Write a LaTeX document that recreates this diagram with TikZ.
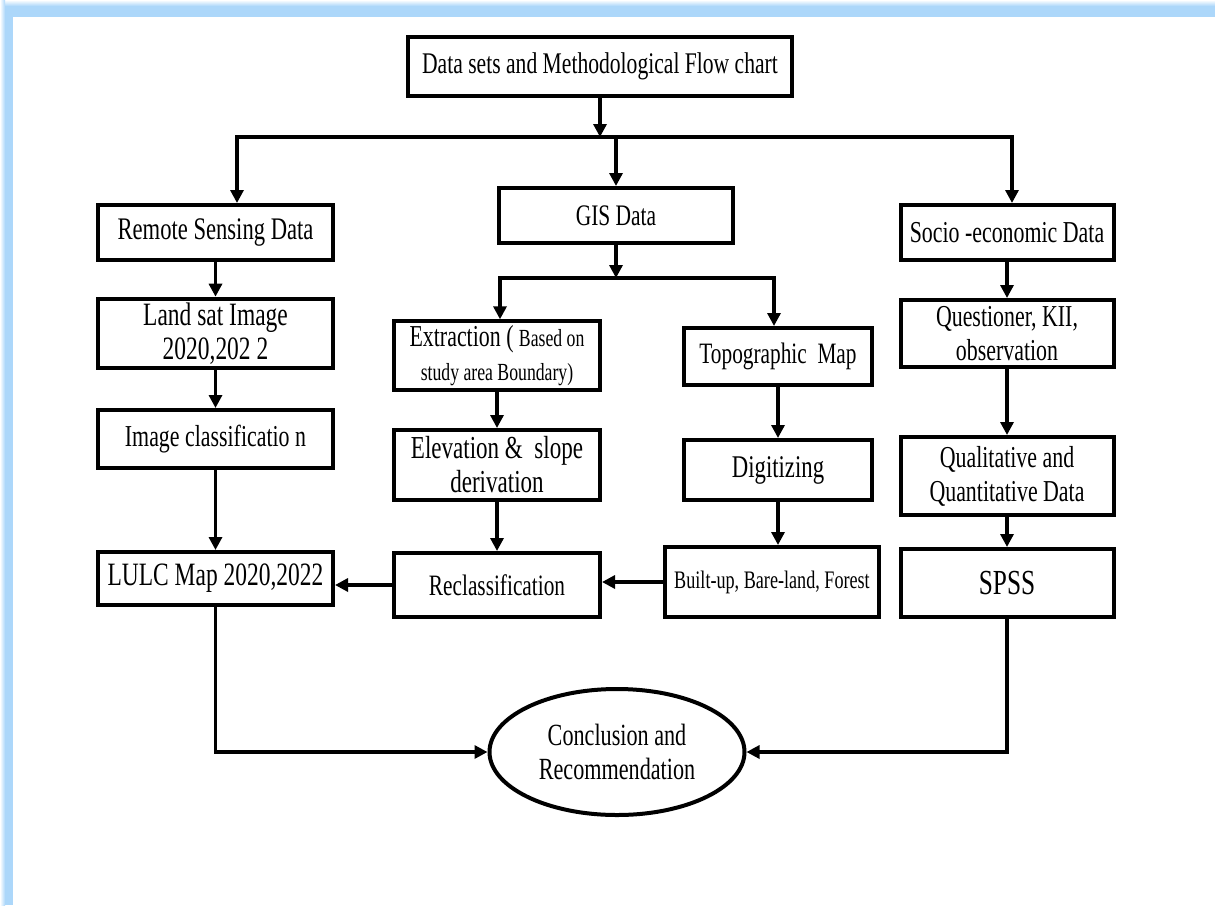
\documentclass[tikz,border=0pt]{standalone}
\usepackage{fontspec}
\setmainfont{Liberation Serif}[FakeStretch=0.72]
\usetikzlibrary{arrows.meta,shapes.geometric}
\definecolor{bordercol}{RGB}{172,215,250}
\newcommand{\fsz}[1]{\fontsize{#1}{17}\selectfont}
\tikzset{
  box/.style={draw=black, line width=2pt, fill=white, align=center, inner sep=2pt,
    font=\fsz{15.2}},
  conn/.style={line width=1.6pt, line cap=rect},
  arr/.style={line width=1.6pt, -{Triangle[length=6.5pt,width=6.5pt]}},
  oval/.style={draw=black, line width=2pt, ellipse, inner sep=0pt, align=center,
    font=\fsz{15.4}}
}
\begin{document}
\begin{tikzpicture}[x=0.5pt,y=-0.5pt]
\useasboundingbox (0,0) rectangle (1215,905);
% page frame
\fill[bordercol] (0,0) rectangle (1215,905);
\shade[top color=white, bottom color=bordercol] (0,0) rectangle (1215,6);
\shade[left color=white, right color=bordercol] (0,0) rectangle (5,905);
\fill[white] (13,17) rectangle (1215,905);

% nodes
\node[box, minimum width=192pt, minimum height=29.5pt, font=\fsz{15}] (title) at (600,66.5) {Data sets and Methodological Flow chart};

\node[box, minimum width=117.5pt, minimum height=27.5pt, font=\fsz{15.7}] (rs) at (215.5,232.5) {Remote Sensing Data};
\node[box, minimum width=117pt, minimum height=27.5pt, font=\fsz{14.9}] (gis) at (616,215.5) {GIS Data};
\node[box, minimum width=106.5pt, minimum height=27.5pt] (soc) at (1007,232.5) {Socio -economic Data};

\node[box, minimum width=117.5pt, minimum height=33.5pt, font=\fsz{16.3}] (land) at (215.5,333.5) {Land sat Image\\2020,202 2};
\node[box, minimum width=103pt, minimum height=32.5pt] (extr) at (497,355.5) {Extraction ( {\fontsize{12.3}{14}\selectfont Based on}\\{\fontsize{12.3}{14}\selectfont study area Boundary)}};
\node[box, minimum width=94pt, minimum height=28.5pt, font=\fsz{14.8}] (topo) at (778,356.5) {Topographic\ \ Map};
\node[box, minimum width=106.5pt, minimum height=33.5pt] (quest) at (1007,333.5) {Questioner, KII,\\observation};

\node[box, minimum width=117.5pt, minimum height=29pt] (imgc) at (215.5,439) {Image classificatio n};
\node[box, minimum width=103pt, minimum height=35pt, font=\fsz{16}] (elev) at (497,465) {Elevation \&\ \ slope\\derivation};
\node[box, minimum width=94pt, minimum height=30pt, font=\fsz{15.8}] (dig) at (778,470) {Digitizing};
\node[box, minimum width=106.5pt, minimum height=39pt] (qual) at (1007,476) {Qualitative and\\Quantitative Data};

\node[box, minimum width=117.5pt, minimum height=26.5pt, font=\fsz{16.3}] (lulc) at (215.5,578.5) {LULC Map 2020,2022};
\node[box, minimum width=103pt, minimum height=32pt, font=\fsz{14.8}] (recl) at (497,585) {Reclassification};
\node[box, minimum width=107pt, minimum height=35pt, font=\fsz{12.6}] (bu) at (772,582) {Built-up, Bare-land, Forest};
\node[box, minimum width=106.5pt, minimum height=34pt, font=\fsz{17.6}] (spss) at (1007,583) {SPSS};

\node[oval, minimum width=127.5pt, minimum height=63pt] (conc) at (617,752) {Conclusion and\\Recommendation};

% junction coordinates
\coordinate (j0) at (600,137);
\coordinate (jl) at (237,137);
\coordinate (jm) at (616,137);
\coordinate (jr) at (1012,137);
\coordinate (g0) at (616,278);
\coordinate (gl) at (500,278);
\coordinate (gr) at (774,278);

% connectors
\draw[arr] (title.south) -- (j0);
\draw[conn] (jl) -- (jr);
\draw[arr] (jl) -- (jl |- rs.north);
\draw[arr] (jm) -- (gis.north);
\draw[arr] (jr) -- (jr |- soc.north);

\draw[arr] (rs.south) -- (land.north);
\draw[arr] (land.south) -- (imgc.north);
\draw[arr] (imgc.south) -- (lulc.north);

\draw[arr] (gis.south) -- (g0);
\draw[conn] (gl) -- (gr);
\draw[arr] (gl) -- (gl |- extr.north);
\draw[arr] (gr) -- (gr |- topo.north);
\draw[arr] (extr.south) -- (elev.north);
\draw[arr] (elev.south) -- (recl.north);
\draw[arr] (topo.south) -- (dig.north);
\draw[arr] (dig.south) -- (dig.south |- bu.north);

\draw[arr] (soc.south) -- (quest.north);
\draw[arr] (quest.south) -- (qual.north);
\draw[arr] (qual.south) -- (spss.north);

\draw[arr] (bu.west) -- (bu.west -| recl.east);
\draw[arr] (recl.west) -- (recl.west -| lulc.east);

\draw[arr] (lulc.south) |- (conc.west);
\draw[arr] (spss.south) |- (conc.east);
\end{tikzpicture}
\end{document}
